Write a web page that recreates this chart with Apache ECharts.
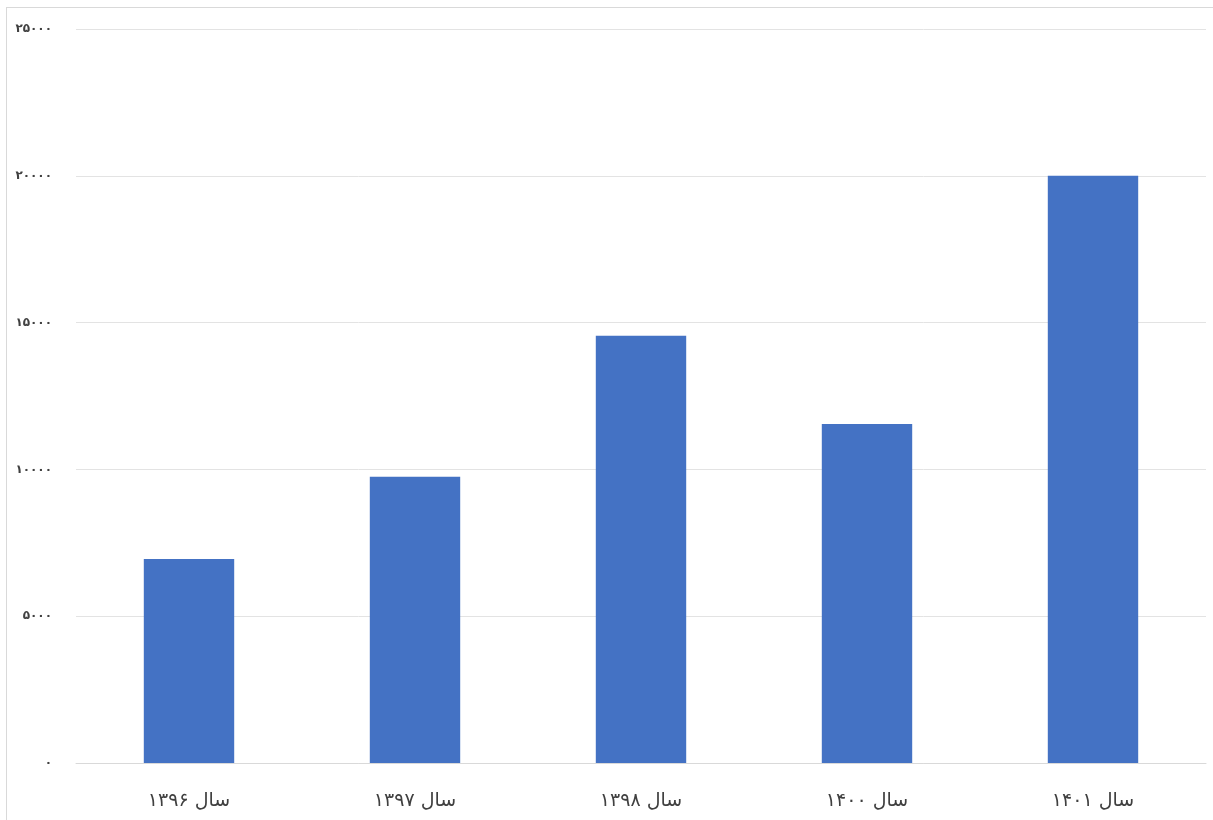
<!DOCTYPE html>
<html>
<head>
<meta charset="utf-8">
<script src="https://cdn.jsdelivr.net/npm/echarts@6/dist/echarts.min.js"></script>
<style>
html,body{margin:0;padding:0;background:#fff;overflow:hidden;}
#frame{position:absolute;left:6px;top:7px;width:1220px;height:830px;border-left:1px solid #d9d9d9;border-top:1px solid #d9d9d9;}
#chart{position:absolute;left:0;top:0;width:1213px;height:820px;}
</style>
</head>
<body>
<div id="frame"></div>
<div id="chart"></div>
<script>
var categories = ['سال ۱۳۹۶', 'سال ۱۳۹۷', 'سال ۱۳۹۸', 'سال ۱۴۰۰', 'سال ۱۴۰۱'];
var values = [6950, 9750, 14550, 11550, 20000];
var yTicks = [0, 5000, 10000, 15000, 20000, 25000];

function toPersian(n) {
  var d = '۰۱۲۳۴۵۶۷۸۹';
  return String(n).replace(/[0-9]/g, function (c) { return d[+c]; });
}

var chart = echarts.init(document.getElementById('chart'));
chart.setOption({
  animation: false,
  grid: { left: 76, right: 7, top: 29, bottom: 57, containLabel: false },
  xAxis: {
    type: 'category',
    data: categories,
    axisTick: { show: false },
    axisLine: { lineStyle: { color: '#d9d9d9', width: 1 } },
    axisLabel: {
      color: '#404040',
      fontSize: 19,
      margin: 29,
      fontFamily: 'DejaVu Sans, sans-serif'
    }
  },
  yAxis: {
    type: 'value',
    min: yTicks[0],
    max: yTicks[yTicks.length - 1],
    interval: 5000,
    axisLine: { show: false },
    axisTick: { show: false },
    splitLine: { lineStyle: { color: '#e3e3e3', width: 1 } },
    axisLabel: {
      color: '#404040',
      fontSize: 12,
      fontWeight: 'bold',
      margin: 24,
      fontFamily: 'DejaVu Sans, sans-serif',
      formatter: function (v) { return toPersian(v); }
    }
  },
  series: [{
    type: 'bar',
    data: values,
    barWidth: '40%',
    itemStyle: { color: '#4472c4' }
  }]
});
</script>
</body>
</html>
